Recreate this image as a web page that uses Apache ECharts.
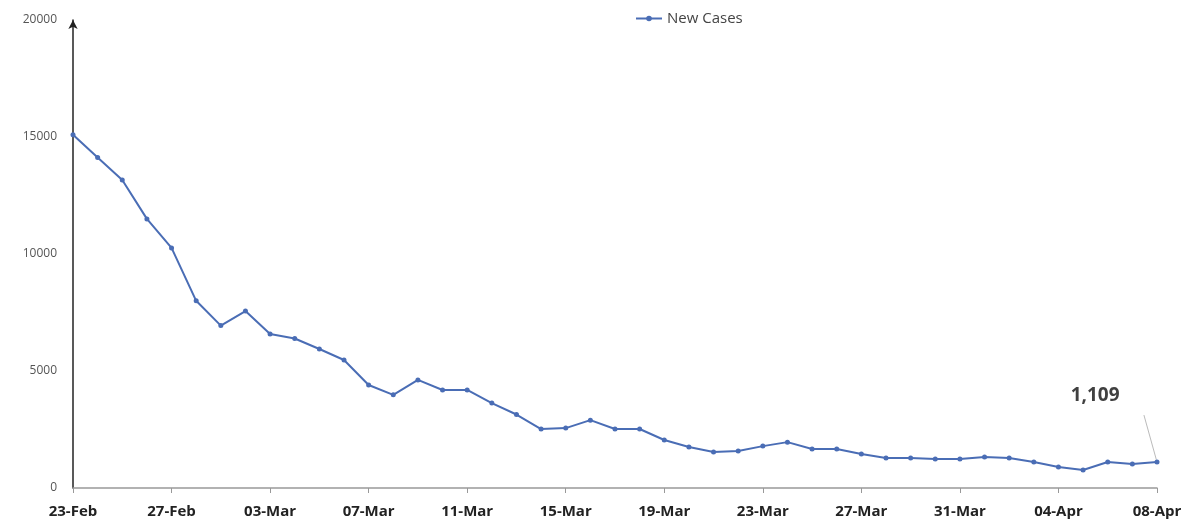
<!DOCTYPE html>
<html>
<head>
<meta charset="utf-8">
<script src="https://cdn.jsdelivr.net/npm/echarts@6/dist/echarts.min.js"></script>
<style>
  html, body { margin: 0; padding: 0; background: #fff; }
  #main { width: 1188px; height: 525px; }
</style>
</head>
<body>
<div id="main"></div>
<script>
var days = ['23-Feb', '24-Feb', '25-Feb', '26-Feb', '27-Feb', '28-Feb',
    '01-Mar', '02-Mar', '03-Mar', '04-Mar', '05-Mar', '06-Mar', '07-Mar', '08-Mar', '09-Mar', '10-Mar',
    '11-Mar', '12-Mar', '13-Mar', '14-Mar', '15-Mar', '16-Mar', '17-Mar', '18-Mar', '19-Mar', '20-Mar',
    '21-Mar', '22-Mar', '23-Mar', '24-Mar', '25-Mar', '26-Mar', '27-Mar', '28-Mar', '29-Mar', '30-Mar',
    '31-Mar', '01-Apr', '02-Apr', '03-Apr', '04-Apr', '05-Apr', '06-Apr', '07-Apr', '08-Apr'];
var newCases = [15100, 14120, 13160, 11500, 10260, 8000, 6940, 7560, 6580, 6390,
    5940, 5470, 4400, 3980, 4620, 4190, 4190, 3630, 3140, 2520,
    2560, 2900, 2520, 2520, 2050, 1750, 1540, 1580, 1790, 1960,
    1670, 1670, 1450, 1280, 1280, 1240, 1240, 1320, 1280, 1110,
    900, 770, 1110, 1030, 1109];
var yTicks = [0, 5000, 10000, 15000, 20000];

var chart = echarts.init(document.getElementById('main'));

// last point gets the callout label
var lineData = newCases.map(function (v, i) {
    if (i === newCases.length - 1) {
        return {
            value: v,
            label: {
                show: true,
                formatter: '1,109',
                position: 'left',
                offset: [-30, -66],
                fontSize: 19,
                fontWeight: 'bold',
                color: '#404040',
                fontFamily: 'Open Sans'
            },
            labelLine: {
                show: true,
                lineStyle: { color: '#bbb', width: 1 }
            }
        };
    }
    return v;
});

chart.setOption({
    animation: false,
    backgroundColor: '#fff',
    legend: {
        data: ['New Cases'],
        top: 6,
        left: 630,
        itemWidth: 26,
        itemHeight: 7,
        itemGap: 4,
        textStyle: { fontSize: 15, color: '#444', fontFamily: 'Open Sans' }
    },
    grid: { left: 73, right: 31, top: 20, bottom: 37 },
    xAxis: {
        type: 'category',
        data: days,
        boundaryGap: false,
        axisLine: { lineStyle: { color: '#999', width: 1.5 } },
        axisTick: { interval: 3, length: 5, lineStyle: { color: '#999' } },
        axisLabel: {
            interval: 3,
            fontSize: 15,
            fontWeight: 'bold',
            color: '#222',
            fontFamily: 'Open Sans',
            margin: 16
        }
    },
    yAxis: {
        type: 'value',
        min: yTicks[0],
        max: yTicks[yTicks.length - 1],
        interval: yTicks[1] - yTicks[0],
        axisLine: {
            show: true,
            symbol: ['none', 'arrow'],
            symbolSize: [7, 9],
            lineStyle: { color: '#222', width: 1.5 }
        },
        axisTick: { show: false },
        splitLine: { show: false },
        axisLabel: {
            fontSize: 12,
            color: '#555',
            fontFamily: 'Open Sans',
            margin: 16,
            formatter: function (v) { return String(v); }
        }
    },
    series: [{
        name: 'New Cases',
        type: 'line',
        data: lineData,
        symbol: 'circle',
        symbolSize: 5,
        color: '#4a6db5',
        lineStyle: { width: 2, color: '#4a6db5' },
        itemStyle: { color: '#4a6db5' }
    }]
});
</script>
</body>
</html>
